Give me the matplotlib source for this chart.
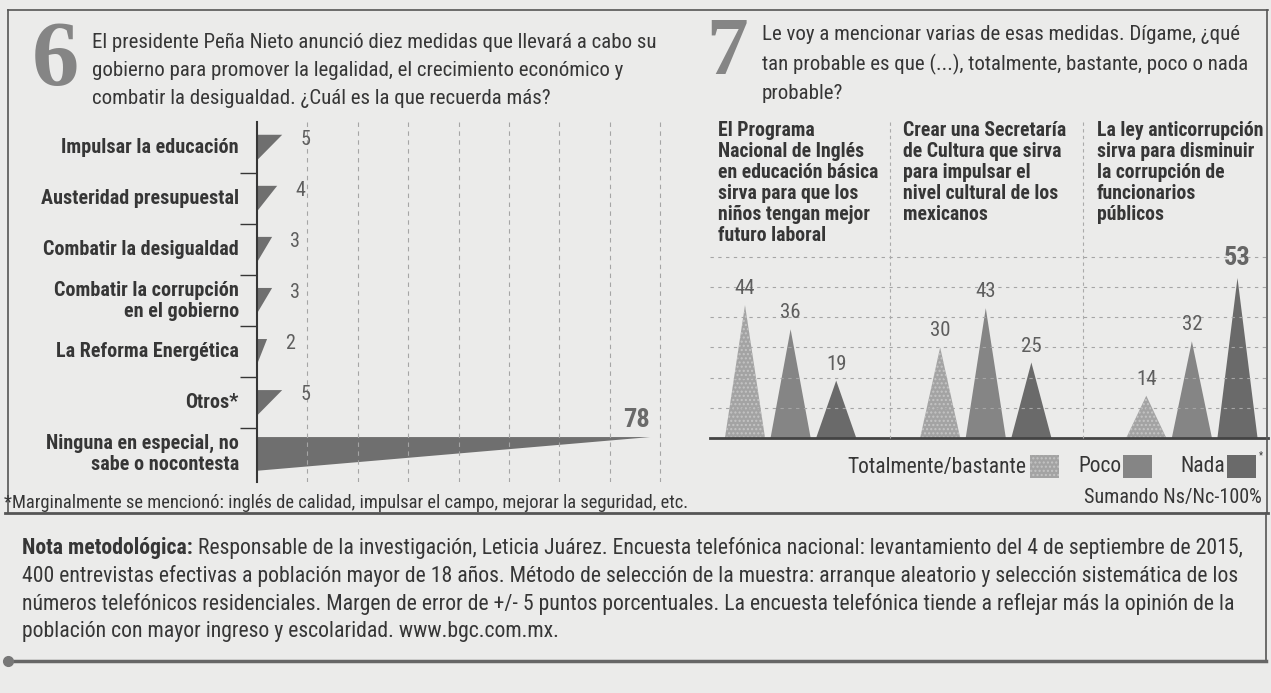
import numpy as np
import matplotlib
matplotlib.use('Agg')
from matplotlib import pyplot as plt
from matplotlib.lines import Line2D
from matplotlib.patches import Polygon, Rectangle

W, H = 1271, 693

# Pregunta 6
medidas = ['Impulsar la educación', 'Austeridad presupuestal',
           'Combatir la desigualdad', 'Combatir la corrupción\nen el gobierno',
           'La Reforma Energética', 'Otros*',
           'Ninguna en especial, no\nsabe o nocontesta']
recuerda = [5, 4, 3, 3, 2, 5, 78]

# Pregunta 7
medidas_p7 = ['El Programa\nNacional de Inglés\nen educación básica\nsirva para que los\nniños tengan mejor\nfuturo laboral',
              'Crear una Secretaría\nde Cultura que sirva\npara impulsar el\nnivel cultural de los\nmexicanos',
              'La ley anticorrupción\nsirva para disminuir\nla corrupción de\nfuncionarios\npúblicos']
respuestas = ['Totalmente/bastante', 'Poco', 'Nada']
totalmente = [44, 30, 14]
poco = [36, 43, 32]
nada = [19, 25, 53]

titulo6 = ('El presidente Peña Nieto anunció diez medidas que llevará a cabo su\n'
           'gobierno para promover la legalidad, el crecimiento económico y\n'
           'combatir la desigualdad. ¿Cuál es la que recuerda más?')
titulo7 = ('Le voy a mencionar varias de esas medidas. Dígame, ¿qué\n'
           'tan probable es que (...), totalmente, bastante, poco o nada\n'
           'probable?')
nota_bold = 'Nota metodológica:'
nota_lineas = [
    ' Responsable de la investigación, Leticia Juárez. Encuesta telefónica nacional: levantamiento del 4 de septiembre de 2015,',
    '400 entrevistas efectivas a población mayor de 18 años. Método de selección de la muestra: arranque aleatorio y selección sistemática de los',
    'números telefónicos residenciales. Margen de error de +/- 5 puntos porcentuales. La encuesta telefónica tiende a reflejar más la opinión de la',
    'población con mayor ingreso y escolaridad. www.bgc.com.mx.',
]

plt.rcParams['font.family'] = ['Roboto Condensed', 'Roboto', 'DejaVu Sans']
BG = '#ebebea'
INK = '#363636'
GRAY = '#5e5e5e'

fig = plt.figure(figsize=(W / 100, H / 100), dpi=100, facecolor=BG)


def fx(x):
    return x / W


def fy(y):
    return 1 - y / H


def px_line(x0, y0, x1, y1, **kw):
    fig.add_artist(Line2D([fx(x0), fx(x1)], [fy(y0), fy(y1)],
                          transform=fig.transFigure, **kw))


def px_text(x, y, s, **kw):
    return fig.text(fx(x), fy(y), s, **kw)


# frames
px_line(8, 10, 1268, 10, color='#555', lw=1.2)
px_line(8, 10, 8, 513, color='#555', lw=1.2)
px_line(1267, 10, 1267, 513, color='#555', lw=1.2)
px_line(5, 513, 1268, 513, color='#555', lw=2)
px_line(1266, 513, 1266, 661, color='#555', lw=1.2)
px_line(8, 661, 1266, 661, color='#666', lw=2.5)
fig.add_artist(Line2D([fx(8)], [fy(661)], marker='o', ms=7, color='#777',
                      transform=fig.transFigure))

# ---- pregunta 6 ----
px_text(32, 62, '6', fontsize=68, fontweight='bold', family='Liberation Serif',
        color='#858585', va='center', ha='left')
px_text(92, 33, titulo6, fontsize=15, color=INK, va='top', ha='left',
        linespacing=1.6)

ax = fig.add_axes([fx(257), fy(482), (680 - 257) / W, (482 - 122) / H])
ax.set_facecolor('none')
ax.set_xlim(0, (680 - 257) / 5.04)
ax.set_ylim(6.55, -0.5)
for i, v in enumerate(recuerda):
    h = 0.66 if v == max(recuerda) else 0.5
    ax.add_patch(Polygon([(0, i - h / 2), (v, i - h / 2), (0, i + h / 2)],
                         closed=True, facecolor='#6f6f6f', edgecolor='none'))
    if v == max(recuerda):
        ax.text(v, i - h / 2 - 0.1, str(v), ha='right', va='bottom',
                fontsize=19, fontweight='bold', color='#6a6a6a')
    else:
        ax.text(v + 4.6, i - 0.16, str(v), ha='center', va='center',
                fontsize=14.5, color=GRAY)
    ax.text(-3.6, i, medidas[i], ha='right', va='center', fontsize=14.5,
            fontweight='bold', color=INK, linespacing=1.15)
ax.set_xticks(np.arange(10, 81, 10))
ax.grid(axis='x', linestyle=(0, (4, 4)), color='#a5a5a5', lw=0.8)
ax.set_yticks(np.arange(0.5, 6, 1))
ax.tick_params(axis='x', length=0, labelbottom=False)
ax.tick_params(axis='y', length=12, width=1, color=INK, labelleft=False,
               direction='out')
for side in ['top', 'right', 'bottom']:
    ax.spines[side].set_visible(False)
ax.spines['left'].set_color(INK)
ax.spines['left'].set_linewidth(1.5)

px_text(4, 503, '*Marginalmente se mencionó: inglés de calidad, impulsar el campo, '
        'mejorar la seguridad, etc.', fontsize=13.3, color=INK, va='center')

# ---- pregunta 7 ----
px_text(706, 54, '7', fontsize=60, fontweight='bold', family='Liberation Serif',
        color='#858585', va='center', ha='left')
px_text(762, 25, titulo7, fontsize=15, color=INK, va='top', ha='left',
        linespacing=1.6)

for gx, txt in zip([718, 903, 1097], medidas_p7):
    px_text(gx, 121, txt, fontsize=14.2, fontweight='bold', color=INK,
            va='top', ha='left', linespacing=1.13)
for sx in [890, 1083]:
    px_line(sx, 122, sx, 438, color='#aaa', lw=0.8, ls=(0, (3, 3)))

ax2 = fig.add_axes([fx(710), fy(438), (1268 - 710) / W, (438 - 250) / H])
ax2.set_facecolor('none')
ax2.set_xlim((710 - 745) / 45.6, (1268 - 745) / 45.6)
ax2.set_ylim(0, (438 - 250) / 3.02)
group_x = [0, 4.28, 8.8]
colores = ['#a3a3a3', '#858585', '#6a6a6a']
series = [totalmente, poco, nada]
top = max(max(s) for s in series)
for r, vals in enumerate(series):
    for g, v in enumerate(vals):
        x = group_x[g] + r
        ax2.add_patch(Polygon([(x - 0.44, 0), (x, v), (x + 0.44, 0)], closed=True,
                              facecolor=colores[r],
                              edgecolor='#c4c4c4' if r == 0 else 'none',
                              hatch='....' if r == 0 else None, lw=0))
        if v == top:
            ax2.text(x, v + 2.6, str(v), ha='center', va='bottom', fontsize=19,
                     fontweight='bold', color='#666')
        else:
            ax2.text(x, v + 2.3, str(v), ha='center', va='bottom', fontsize=15,
                     color=GRAY)
ax2.set_yticks(np.arange(10, 61, 10))
ax2.grid(axis='y', linestyle=(0, (3, 4)), color='#a5a5a5', lw=0.8)
ax2.tick_params(length=0, labelbottom=False, labelleft=False)
for side in ['top', 'right', 'left']:
    ax2.spines[side].set_visible(False)
ax2.spines['bottom'].set_color('#444')
ax2.spines['bottom'].set_linewidth(2)

# legend
leg_pos = [(1026, 1030), (1121, 1123), (1225, 1227)]
for (tx, sx), nombre, col, r in zip(leg_pos, respuestas, colores, range(3)):
    px_text(tx, 467, nombre, fontsize=15.5, color=INK, ha='right', va='center')
    fig.add_artist(Rectangle((fx(sx), fy(478)), 29 / W, 23 / H,
                             transform=fig.transFigure, facecolor=col,
                             edgecolor='#c4c4c4' if r == 0 else 'none',
                             hatch='....' if r == 0 else None, lw=0))
px_text(1259, 455, '*', fontsize=7, color=INK, ha='left', va='center')
px_text(1262, 497, 'Sumando Ns/Nc-100%', fontsize=14.5, color=INK, ha='right',
        va='center')

# nota metodologica
t = px_text(22, 548, nota_bold, fontsize=15.7, fontweight='bold', color=INK,
            va='center')
fig.canvas.draw()
bb = t.get_window_extent()
px_text(bb.x1, 548, nota_lineas[0], fontsize=15.7, color=INK, va='center')
for k, linea in enumerate(nota_lineas[1:]):
    px_text(22, 576 + 27.7 * k, linea, fontsize=15.7, color=INK, va='center')

fig.savefig('out.png', dpi=100, facecolor=BG)
